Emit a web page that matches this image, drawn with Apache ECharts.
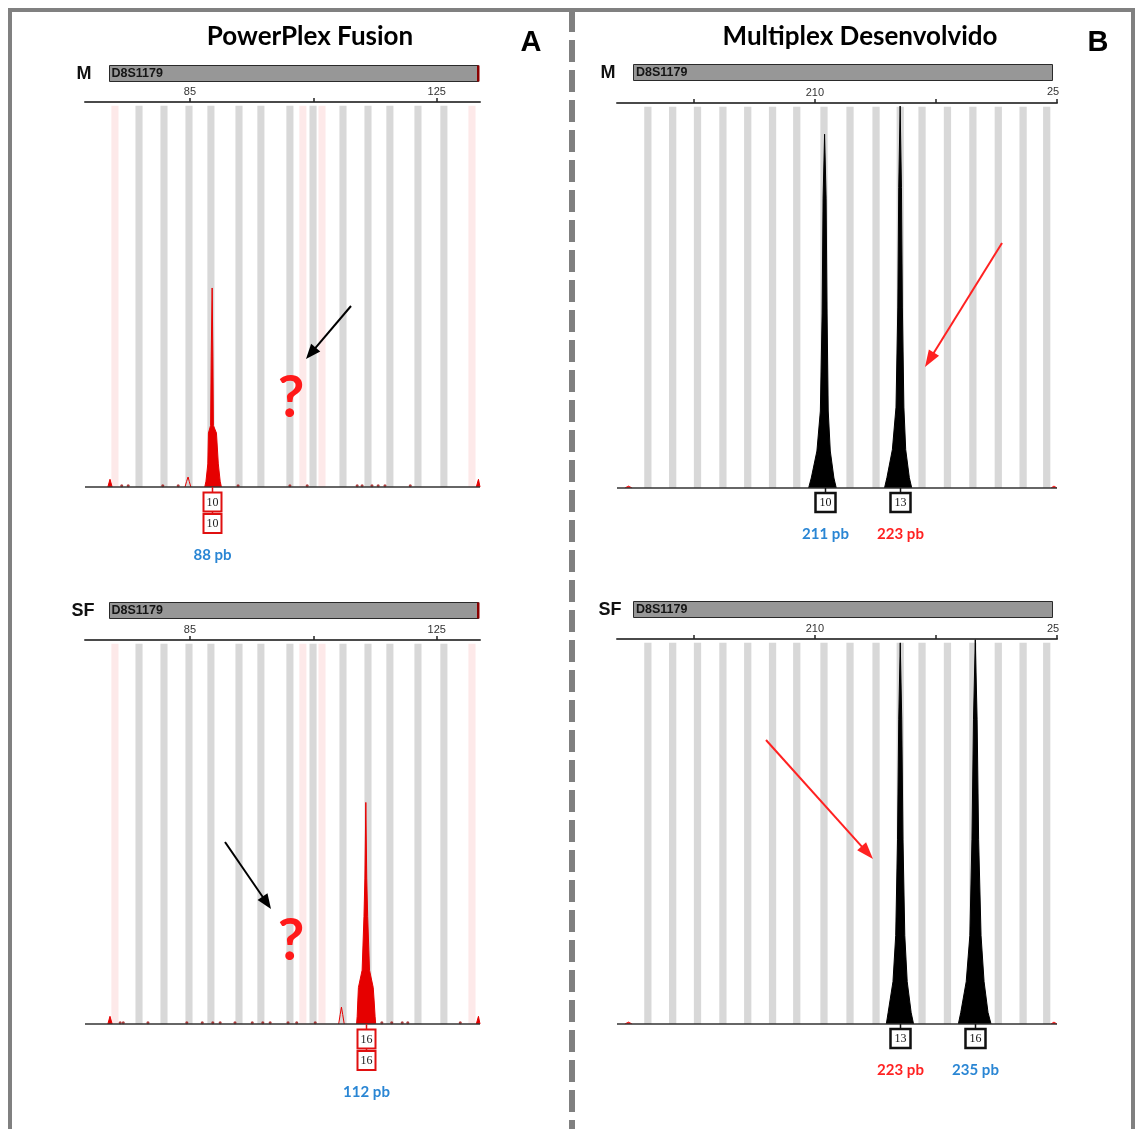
<!DOCTYPE html>
<html><head><meta charset="utf-8">
<script src="https://cdn.jsdelivr.net/npm/echarts@6/dist/echarts.min.js"></script>
<style>html,body{margin:0;padding:0;background:#fff}#c{width:1136px;height:1129px}</style>
</head><body><div id="c"></div>
<script>
// ================= DATA =================
const locusName = 'D8S1179';
const panelTitles = ['PowerPlex Fusion', 'Multiplex Desenvolvido'];
const panelLetters = ['A', 'B'];
const sampleNames = ['M', 'SF'];

const leftTicks = [85, 105, 125];
const leftTickLabels = [85, 125];
const rightTicks = [190, 210, 230, 250];
const rightTickLabels = [210];

// allelic ladder bins (bp)
const leftBins = [76.75, 80.8, 84.85, 88.4, 92.95, 96.5, 101.2, 104.95, 109.8, 113.85, 117.4, 121.95, 126.15];
const leftPinkBins = [72.85, 103.3, 106.4, 130.7];
const rightBins = [182.4, 186.5, 190.6, 194.8, 198.9, 203.0, 207.0, 211.5, 215.8, 220.1, 224.1, 227.7, 231.9, 236.1, 240.3, 244.4, 248.3];

// electropherogram peaks [bp, signal]
const peakTL = [[87.4,0],[87.6,15],[87.9,60],[88.0,140],[88.35,160],[88.45,340],[88.6,517],[88.72,340],[88.8,160],[89.3,140],[89.6,60],[89.9,15],[90.1,0]];
const stutterTL = [[84.2,0],[84.45,14],[84.7,26],[84.9,14],[85.15,0]];
const peakBL = [[112.0,0],[112.1,20],[112.2,60],[112.3,95],[112.9,140],[113.2,280],[113.35,380],[113.5,577],[113.65,380],[113.8,280],[114.1,140],[114.7,95],[114.85,60],[115.0,20],[115.1,0]];
const stutterBL = [[109.1,0],[109.35,25],[109.55,44],[109.75,25],[110.0,0]];
const edgeLeftA = [[71.7,0],[72.05,20],[72.4,0]];
const edgeLeftB = [[131.4,0],[131.75,20],[132.0,0]];

const peakTR10 = [[208.96,0],[209.4,26],[210.33,96],[210.9,200],[211.19,452],[211.35,753],[211.6,919],[211.85,753],[212.01,452],[212.2,200],[212.54,96],[213.14,26],[213.53,0]];
const peakTR13 = [[221.5,0],[221.9,27],[222.8,100],[223.4,210],[223.7,470],[223.85,780],[224.08,992],[224.3,780],[224.45,470],[224.7,210],[225.0,100],[225.6,27],[226.0,0]];
const peakBR13 = [[221.8,0],[222.1,30],[222.9,110],[223.35,230],[223.65,480],[223.85,790],[224.1,990],[224.35,790],[224.55,480],[224.85,230],[225.25,110],[225.9,30],[226.3,0]];
const peakBR16 = [[233.7,0],[234.1,30],[235.0,110],[235.6,230],[235.95,480],[236.2,790],[236.5,998],[236.8,790],[237.05,480],[237.45,230],[237.95,110],[238.6,30],[239.1,0]];
const edgeRightA = [[178.6,0],[179.2,5],[179.8,0]];
const edgeRightB = [[249.0,0],[249.5,5],[250.0,0]];

// baseline noise positions (bp)
const noiseTL = [73.95, 75.0, 80.6, 83.1, 92.8, 101.2, 104.0, 112.1, 112.9, 114.5, 115.5, 116.6, 120.7];
const noiseBL = [73.7, 74.2, 78.2, 84.5, 87.0, 88.7, 89.9, 92.3, 95.1, 96.8, 98.0, 100.9, 102.3, 105.3, 116.1, 117.7, 119.4, 120.3, 128.8];

// allele calls
const tlAlleleBp = [88.6],  tlAllele = ['10'],      tlSize = ['88 pb'];
const trAlleleBp = [211.6, 224.08], trAllele = ['10','13'], trSize = ['211 pb','223 pb'];
const blAlleleBp = [113.5], blAllele = ['16'],      blSize = ['112 pb'];
const brAlleleBp = [224.1, 236.5],  brAllele = ['13','16'], brSize = ['223 pb','235 pb'];

// ================= STYLE / LAYOUT =================
const BLUE = '#2a86d4', RED = '#ff2222', PEAKRED = '#e60000';
const grids = [
  {left: 85,  top: 102, width: 395, height: 385},
  {left: 617, top: 103, width: 440, height: 385},
  {left: 85,  top: 640, width: 395, height: 384},
  {left: 617, top: 639, width: 440, height: 385}
];
const isLeft = i => i % 2 === 0;

const xAxes = grids.map((g, i) => ({
  type: 'value', gridIndex: i, position: 'top',
  min: isLeft(i) ? 68 : 177.3, max: isLeft(i) ? 132 : 250,
  axisLine: {show: true, onZero: false, lineStyle: {color: '#4a4a4a', width: 2}},
  axisTick: {show: true, customValues: isLeft(i) ? leftTicks : rightTicks, length: 4, lineStyle: {color: '#222', width: 1.5}},
  axisLabel: {show: true, customValues: isLeft(i) ? leftTickLabels : rightTickLabels, color: '#333', fontSize: 11, fontFamily: 'Liberation Sans', margin: 5},
  splitLine: {show: false}
}));
const yAxes = grids.map((g, i) => ({type: 'value', gridIndex: i, min: 0, max: 1000, show: false}));

function binSeries(i, bins, color, w) {
  return {
    type: 'custom', xAxisIndex: i, yAxisIndex: i, z: 1, silent: true,
    data: bins.map(b => [b, 0]),
    encode: {x: 0, y: 1},
    renderItem: function (params, api) {
      const b = api.value(0);
      const p0 = api.coord([b - w / 2, 990]);
      const p1 = api.coord([b + w / 2, 0]);
      return {type: 'rect', shape: {x: p0[0], y: p0[1], width: p1[0] - p0[0], height: p1[1] - p0[1]}, style: {fill: color}};
    }
  };
}
function peakSeries(i, pts, color, filled, withBase) {
  const s = {
    type: 'line', xAxisIndex: i, yAxisIndex: i, data: pts, showSymbol: false, symbol: 'none',
    smooth: false, lineStyle: {color: color, width: 1}, z: 3, silent: true
  };
  if (filled) s.areaStyle = {color: color, opacity: 1};
  if (withBase) s.markLine = {silent: true, symbol: ['none', 'none'], label: {show: false},
    lineStyle: {color: '#333', width: 1.5, type: 'solid'}, data: [{yAxis: 0}]};
  return s;
}
function noiseSeries(i, pts) {
  return {type: 'scatter', xAxisIndex: i, yAxisIndex: i, data: pts.map(b => [b, 3]), symbolSize: 3,
    itemStyle: {color: '#9a1010'}, z: 2, silent: true};
}

const series = [
  // TL
  binSeries(0, leftPinkBins, '#fde9e9', 1.15),
  binSeries(0, leftBins, '#d8d8d8', 1.15),
  peakSeries(0, peakTL, PEAKRED, true, true),
  peakSeries(0, stutterTL, PEAKRED, false, false),
  peakSeries(0, edgeLeftA, PEAKRED, true, false),
  peakSeries(0, edgeLeftB, PEAKRED, true, false),
  noiseSeries(0, noiseTL),
  // TR
  binSeries(1, rightBins, '#d8d8d8', 1.2),
  peakSeries(1, peakTR10, '#000', true, true),
  peakSeries(1, peakTR13, '#000', true, false),
  peakSeries(1, edgeRightA, RED, true, false),
  peakSeries(1, edgeRightB, RED, true, false),
  // BL
  binSeries(2, leftPinkBins, '#fde9e9', 1.15),
  binSeries(2, leftBins, '#d8d8d8', 1.15),
  peakSeries(2, peakBL, PEAKRED, true, true),
  peakSeries(2, stutterBL, PEAKRED, false, false),
  peakSeries(2, edgeLeftA, PEAKRED, true, false),
  peakSeries(2, edgeLeftB, PEAKRED, true, false),
  noiseSeries(2, noiseBL),
  // BR
  binSeries(3, rightBins, '#d8d8d8', 1.2),
  peakSeries(3, peakBR13, '#000', true, true),
  peakSeries(3, peakBR16, '#000', true, false),
  peakSeries(3, edgeRightA, RED, true, false),
  peakSeries(3, edgeRightB, RED, true, false)
];
const gridMainSeries = [2, 8, 14, 20];

// ================= STATIC GRAPHICS =================
function txt(text, x, y, font, fill, align) {
  return {type: 'text', z: 50, silent: true, style: {text: text, x: x, y: y, font: font, fill: fill || '#000',
    align: align || 'center', verticalAlign: 'middle', textAlign: align || 'center', textVerticalAlign: 'middle'}};
}
function rect(x, y, w, h, fill, stroke, lw) {
  return {type: 'rect', z: 50, silent: true, shape: {x: x, y: y, width: w, height: h},
    style: {fill: fill || 'none', stroke: stroke || null, lineWidth: lw || 0}};
}
function line(x1, y1, x2, y2, stroke, lw, dash) {
  return {type: 'line', z: 50, silent: true, shape: {x1: x1, y1: y1, x2: x2, y2: y2},
    style: {stroke: stroke, lineWidth: lw, lineDash: dash || null}};
}
function arrow(x1, y1, x2, y2, color, lw, hl, hw) {
  const dx = x2 - x1, dy = y2 - y1, L = Math.sqrt(dx * dx + dy * dy);
  const ux = dx / L, uy = dy / L;
  const bx = x2 - ux * hl, by = y2 - uy * hl;
  const px = -uy * hw / 2, py = ux * hw / 2;
  return [line(x1, y1, bx + ux * 2, by + uy * 2, color, lw),
    {type: 'polygon', z: 51, silent: true, shape: {points: [[x2, y2], [bx + px, by + py], [bx - px, by - py]]}, style: {fill: color}}];
}

const TITLE_FONT = 'bold 26px Lato';
const LETTER_FONT = 'bold 29px "Liberation Sans"';
const SAMPLE_FONT = 'bold 18px "Liberation Sans"';
const LOCUS_FONT = 'bold 12.5px "Liberation Sans"';
const QMARK_FONT = 'bold 58px Lato';
const g = [];
// frame
g.push(rect(10, 10, 1123, 1140, 'none', '#808080', 4));
g.push(line(572, 10, 572, 1129, '#808080', 6, [22, 8]));
// titles
g.push(txt(panelTitles[0], 310, 37, TITLE_FONT, '#000'));
g.push(txt(panelTitles[1], 860, 37, TITLE_FONT, '#000'));
g.push(txt(panelLetters[0], 531, 43, LETTER_FONT, '#000'));
g.push(txt(panelLetters[1], 1098, 43, LETTER_FONT, '#000'));
// sample names & locus bars
[[0, 0], [1, 537]].forEach(function (r) {
  const dy = r[1], nm = sampleNames[r[0]];
  g.push(txt(nm, r[0] === 0 ? 84 : 83, 74 + dy, SAMPLE_FONT, '#111'));
  g.push(txt(nm, r[0] === 0 ? 608 : 610, 73 + dy, SAMPLE_FONT, '#111'));
  g.push(rect(109.5, 65.5 + dy, 369, 16, '#979797', '#2a2a2a', 1));
  g.push(rect(477, 65.5 + dy, 2.5, 16, '#8b0000'));
  g.push(txt(locusName, 111.5, 73.5 + dy, LOCUS_FONT, '#151515', 'left'));
  g.push(rect(633.5, 64.5 + dy, 419, 16, '#979797', '#2a2a2a', 1));
  g.push(txt(locusName, 636, 72.5 + dy, LOCUS_FONT, '#151515', 'left'));
  g.push(txt('25', 1047, 92 + dy, '11px "Liberation Sans"', '#333', 'left'));
});
// question marks and arrows
g.push(txt('?', 291, 398, QMARK_FONT, '#ff1a1a'));
g.push(txt('?', 291, 941, QMARK_FONT, '#ff1a1a'));
arrow(351, 306, 306, 359, '#000', 2, 15, 12).forEach(e => g.push(e));
arrow(225, 842, 271, 909, '#000', 2, 15, 12).forEach(e => g.push(e));
arrow(1002, 243, 925, 367, RED, 2, 17, 12).forEach(e => g.push(e));
arrow(766, 740, 873, 859, RED, 2, 17, 12).forEach(e => g.push(e));

const chart = echarts.init(document.getElementById('c'), null, {renderer: 'canvas', width: 1136, height: 1129});
chart.setOption({
  animation: false, backgroundColor: '#ffffff',
  grid: grids, xAxis: xAxes, yAxis: yAxes, series: series, graphic: {elements: g}
});

// ================= ALLELE CALL BOXES (positioned through the axes) =================
const BOX_FONT = '12px "Liberation Serif"';
const SIZE_FONT = 'bold 15px Lato';
function callBoxes(gi, bps, alleles, sizes, sizeColors, leftStyle) {
  bps.forEach(function (bp, k) {
    const p = chart.convertToPixel({seriesIndex: gridMainSeries[gi]}, [bp, 0]);
    const x = Math.round(p[0]) + 0.5, base = p[1];
    if (leftStyle) {
      g.push(line(x, base, x, base + 30, '#e01010', 1.5));
      g.push(rect(x - 9, base + 5.5, 18, 19, '#fff', '#e01010', 2));
      g.push(txt(alleles[k], x, base + 15.5, BOX_FONT, '#222'));
      g.push(rect(x - 9, base + 27, 18, 19, '#fff', '#e01010', 2));
      g.push(txt(alleles[k], x, base + 37, BOX_FONT, '#222'));
      g.push(txt(sizes[k], x, base + 68, SIZE_FONT, sizeColors[k]));
    } else {
      g.push(line(x, base, x, base + 5, '#111', 1.5));
      g.push(rect(x - 10, base + 5, 20, 19, '#fff', '#111', 2.5));
      g.push(txt(alleles[k], x, base + 15, BOX_FONT, '#111'));
      g.push(txt(sizes[k], x, base + 46, SIZE_FONT, sizeColors[k]));
    }
  });
}
callBoxes(0, tlAlleleBp, tlAllele, tlSize, [BLUE], true);
callBoxes(1, trAlleleBp, trAllele, trSize, [BLUE, RED], false);
callBoxes(2, blAlleleBp, blAllele, blSize, [BLUE], true);
callBoxes(3, brAlleleBp, brAllele, brSize, [RED, BLUE], false);
chart.setOption({graphic: {elements: g}});
</script></body></html>
